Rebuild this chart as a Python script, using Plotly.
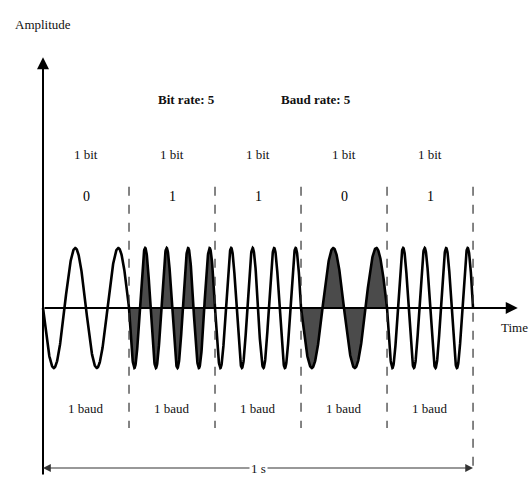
import numpy as np
import plotly.graph_objects as go

# ---- data ----
bits = [0, 1, 1, 0, 1]
cycles_for_bit = {0: 2, 1: 4}          # FSK: 0 -> low freq, 1 -> high freq
shaded = [False, True, False, True, False]
bit_labels = ["1 bit"] * 5
baud_labels = ["1 baud"] * 5
title_left = "Bit rate: 5"
title_right = "Baud rate: 5"

fig = go.Figure()

# ---- waveform ----
for i, b in enumerate(bits):
    t = np.linspace(i, i + 1, 400)
    f = cycles_for_bit[b]
    y = -np.sin(2 * np.pi * f * (t - i))
    fig.add_trace(go.Scatter(
        x=t, y=y, mode="lines",
        line=dict(color="black", width=2.6),
        fill="tozeroy" if shaded[i] else None,
        fillcolor="rgba(75,75,75,1)",
        hoverinfo="skip", showlegend=False))

font = dict(family="Liberation Serif", size=13, color="#111")

# ---- dashed separators ----
for k in range(1, 6):
    fig.add_shape(type="line", x0=k, x1=k, y0=2.02,
                  y1=(-2.78 if k == 5 else -2.0),
                  line=dict(color="#333", width=1.2, dash="dash"))

# ---- axes with arrows ----
fig.add_annotation(x=5.52, y=0, ax=0, ay=0, axref="x", ayref="y",
                   showarrow=True, arrowhead=2, arrowsize=1.2, arrowwidth=2,
                   arrowcolor="black", text="")
fig.add_annotation(x=0, y=4.18, ax=0, ay=-2.8, axref="x", ayref="y",
                   showarrow=True, arrowhead=2, arrowsize=1.2, arrowwidth=2,
                   arrowcolor="black", text="")

# ---- 1 s double arrow ----
for tip in (0, 5):
    fig.add_annotation(x=tip, y=-2.667, ax=2.5, ay=-2.667, axref="x", ayref="y",
                       showarrow=True, arrowhead=2, arrowsize=1.3, arrowwidth=1.2,
                       arrowcolor="#333", text="")
fig.add_annotation(x=2.5, y=-2.667, text="1 s", showarrow=False,
                   bgcolor="white", font=font)

# ---- texts ----
fig.add_annotation(x=0, y=4.72, text="Amplitude", showarrow=False, font=font)
fig.add_annotation(x=5.3, y=-0.32, text="Time", showarrow=False, font=font,
                   xanchor="left")
fig.add_annotation(x=1.67, y=3.47, text="<b>" + title_left + "</b>",
                   showarrow=False, font=font)
fig.add_annotation(x=3.17, y=3.47, text="<b>" + title_right + "</b>",
                   showarrow=False, font=font)
for i, b in enumerate(bits):
    fig.add_annotation(x=i + 0.5, y=2.55, text=bit_labels[i], showarrow=False, font=font)
    fig.add_annotation(x=i + 0.5, y=1.85, text=str(b), showarrow=False,
                       font=dict(family="Liberation Serif", size=14, color="black"))
    fig.add_annotation(x=i + 0.5, y=-1.68, text=baud_labels[i], showarrow=False, font=font)

fig.update_layout(
    width=531, height=477,
    margin=dict(l=0, r=0, t=0, b=0),
    paper_bgcolor="white", plot_bgcolor="white",
    xaxis=dict(range=[-0.5, 5.674], visible=False),
    yaxis=dict(range=[-2.817, 5.133], visible=False),
)
fig.write_html("out.html", config={"displayModeBar": False},
               post_script="document.body.style.margin='0';document.body.style.overflow='hidden';")
